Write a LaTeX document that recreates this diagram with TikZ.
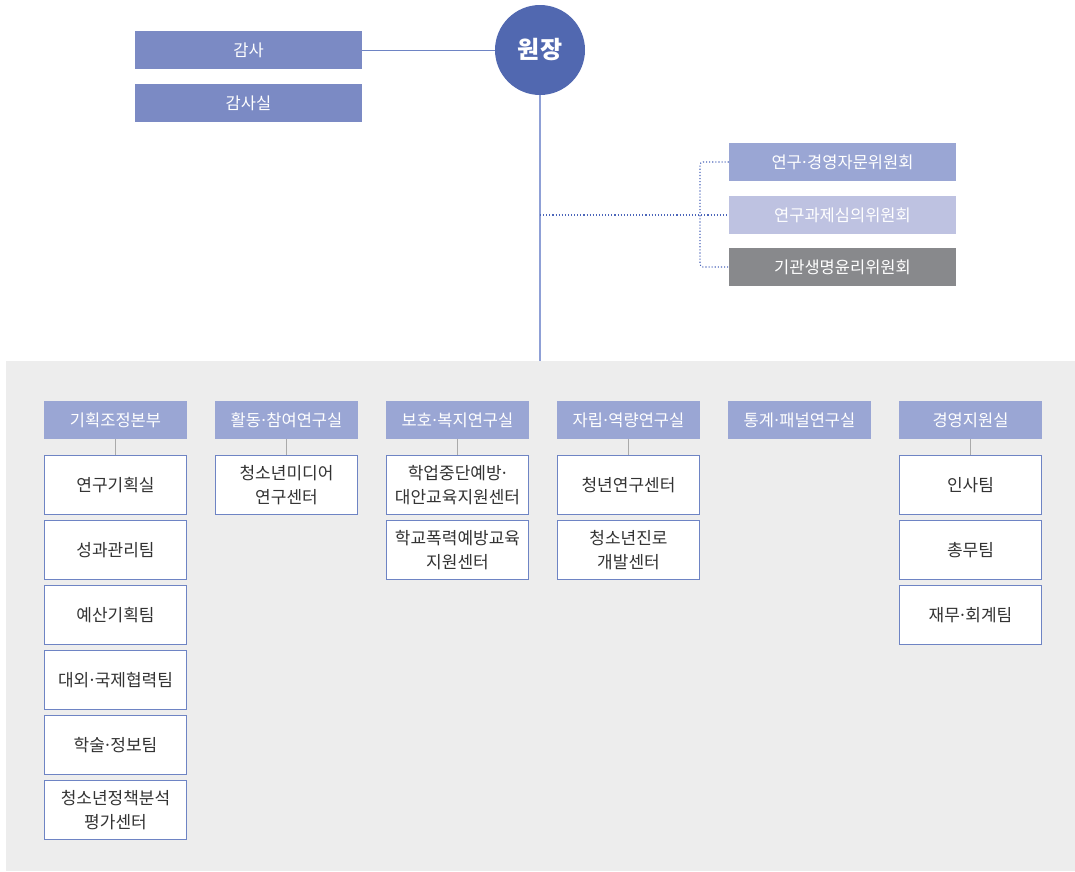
\documentclass[tikz,border=0pt]{standalone}
\usepackage{fontspec}
\setmainfont{Noto Sans CJK KR}
\newcommand\mdt{\kern-0.12em·\kern-0.12em}
\definecolor{circ}{HTML}{5168B0}
\definecolor{audit}{HTML}{7B8AC4}
\definecolor{hdr}{HTML}{9AA6D4}
\definecolor{comm2}{HTML}{BEC2E1}
\definecolor{comm3}{HTML}{88898C}
\definecolor{panel}{HTML}{EDEDED}
\definecolor{bord}{HTML}{6E84C4}
\definecolor{vline}{HTML}{8FA0D6}
\definecolor{dotc}{HTML}{4C66BA}
\definecolor{txt}{HTML}{333333}
\definecolor{stub}{HTML}{AAAAAA}
\begin{document}
\begin{tikzpicture}[x=1pt,y=-1pt,
  filled/.style={rectangle,minimum width=227pt,minimum height=38pt,inner sep=0pt,text=white,font=\fontsize{16.5}{20}\selectfont},
  hdrbox/.style={rectangle,fill=hdr,minimum width=143pt,minimum height=38pt,inner sep=0pt,text=white,font=\fontsize{16.5}{20}\selectfont},
  unitbox/.style={rectangle,draw=bord,line width=1pt,fill=white,minimum width=142pt,minimum height=59pt,inner sep=0pt,text=txt,align=center,font=\fontsize{17}{24}\selectfont},
  stubline/.style={stub,line width=1.5pt},
  dotline/.style={dotc,line width=1.1pt,dotted}]
\useasboundingbox (0,0) rectangle (1075,871);
\fill[panel] (6,361) rectangle (1075,871);

% top
\node[circle,fill=circ,minimum size=90pt,inner sep=0pt,text=white,font=\fontsize{24}{28}\selectfont\bfseries] (head) at (540,50) {원장};
\node[filled,fill=audit] (gamsa) at (248.5,50) {감사};
\node[filled,fill=audit] (gamsasil) at (248.5,103) {감사실};
\draw[bord,line width=1pt] (gamsa.east) -- (head.west);

\coordinate (paneltop) at (540,361);
\draw[vline,line width=1.5pt] (head.south) -- (paneltop);

% committees
\node[filled,fill=hdr] (c1) at (842.5,162) {연구\mdt 경영자문위원회};
\node[filled,fill=comm2] (c2) at (842.5,215) {연구과제심의위원회};
\node[filled,fill=comm3] (c3) at (842.5,267) {기관생명윤리위원회};
\coordinate (tap) at (540,215);
\coordinate (bt) at (700,162);
\coordinate (bb) at (700,267);
\draw[dotline] (tap) -- (c2.west);
\draw[dotline,rounded corners=3pt] (c1.west) -- (bt) -- (bb) -- (c3.west);

% departments
\node[hdrbox] (d1) at (115.5,420) {기획조정본부};
\node[hdrbox] (d2) at (286.5,420) {활동\mdt 참여연구실};
\node[hdrbox] (d3) at (457.5,420) {보호\mdt 복지연구실};
\node[hdrbox] (d4) at (628.5,420) {자립\mdt 역량연구실};
\node[hdrbox] (d5) at (799.5,420) {통계\mdt 패널연구실};
\node[hdrbox] (d6) at (970.5,420) {경영지원실};

% column 1
\node[unitbox] (u11) at (115.5,485) {연구기획실};
\node[unitbox] (u12) at (115.5,550) {성과관리팀};
\node[unitbox] (u13) at (115.5,615) {예산기획팀};
\node[unitbox] (u14) at (115.5,680) {대외\mdt 국제협력팀};
\node[unitbox] (u15) at (115.5,745) {학술\mdt 정보팀};
\node[unitbox] (u16) at (115.5,810) {청소년정책분석\\평가센터};
% column 2
\node[unitbox] (u21) at (286.5,485) {청소년미디어\\연구센터};
% column 3
\node[unitbox] (u31) at (457.5,485) {학업중단예방\mdt\\대안교육지원센터};
\node[unitbox] (u32) at (457.5,550) {학교폭력예방교육\\지원센터};
% column 4
\node[unitbox] (u41) at (628.5,485) {청년연구센터};
\node[unitbox] (u42) at (628.5,550) {청소년진로\\개발센터};
% column 6
\node[unitbox] (u61) at (970.5,485) {인사팀};
\node[unitbox] (u62) at (970.5,550) {총무팀};
\node[unitbox] (u63) at (970.5,615) {재무\mdt 회계팀};

\foreach \d/\u in {d1/u11,d2/u21,d3/u31,d4/u41,d6/u61}
  \draw[stubline] (\d.south) -- (\u.north);
\end{tikzpicture}
\end{document}
